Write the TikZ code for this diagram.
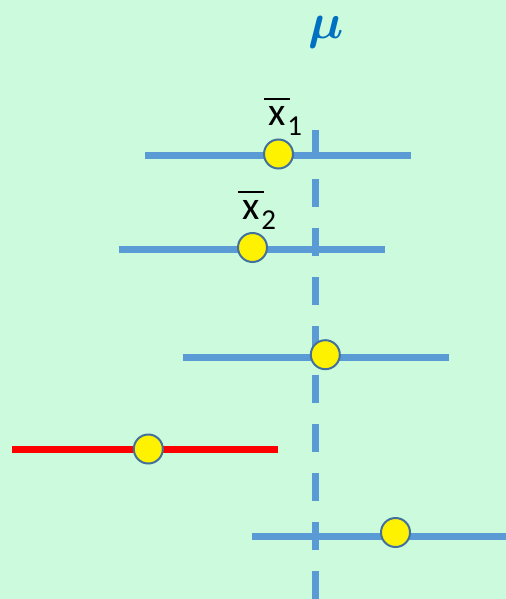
\RequirePackage{fix-cm}
\documentclass[tikz,border=0pt]{standalone}
\usepackage{fontspec}
\usepackage{amsmath}
\usepackage{bm}
\setmainfont{Carlito}
\definecolor{bggreen}{RGB}{204,250,220}
\definecolor{ciblue}{RGB}{91,155,213}
\definecolor{dotedge}{RGB}{65,113,156}
\definecolor{mublue}{RGB}{0,112,192}
\newcommand{\xbarlbl}[1]{\rlap{\hspace*{-4bp}\raisebox{26bp}{\rule{26bp}{1.8bp}}}x\hspace{2bp}\raisebox{-10bp}{\fontsize{29}{29}\selectfont #1}}
\tikzset{
  ci/.style={draw=ciblue, line width=7bp},
  cired/.style={draw=red, line width=7bp},
  mean/.style={circle, fill=yellow, draw=dotedge, line width=2bp, minimum size=29bp, inner sep=0pt},
  muline/.style={draw=ciblue, line width=7bp, dash pattern=on 28bp off 21bp},
  lbl/.style={inner sep=0pt, anchor=base west, font=\fontsize{40}{40}\selectfont}
}
\begin{document}
\begin{tikzpicture}[x=1bp,y=-1bp]
\fill[bggreen] (0,0) rectangle (506,599);
\useasboundingbox (0,0) rectangle (506,599);
% mu line
\coordinate (mutop) at (315.5,130);
\coordinate (mubot) at (315.5,599);
\draw[muline] (mutop) -- (mubot);
% intervals
\coordinate (a1) at (145,155.5); \coordinate (b1) at (411,155.5);
\coordinate (a2) at (119,249); \coordinate (b2) at (385,249);
\coordinate (a3) at (183,357); \coordinate (b3) at (449,357);
\coordinate (a4) at (12,449.5); \coordinate (b4) at (278,449.5);
\coordinate (a5) at (252,536.5); \coordinate (b5) at (506,536.5);
\draw[ci] (a1) -- (b1);
\draw[ci] (a2) -- (b2);
\draw[ci] (a3) -- (b3);
\draw[cired] (a4) -- (b4);
\draw[ci] (a5) -- (b5);
\node[mean] (m1) at (278.5,154) {};
\node[mean] (m2) at (252.5,247.5) {};
\node[mean] (m3) at (325.3,354.7) {};
\node[mean] (m4) at (148.3,449) {};
\node[mean] (m5) at (395.5,532.5) {};
% labels
\node[lbl] (x1) at (268,126) {\xbarlbl{1}};
\node[lbl] (x2) at (242,219) {\xbarlbl{2}};
\node[inner sep=0pt, anchor=base, text=mublue, font=\fontsize{50}{50}\selectfont] (mu) at (326,39) {$\bm{\mu}$};
\end{tikzpicture}
\end{document}
